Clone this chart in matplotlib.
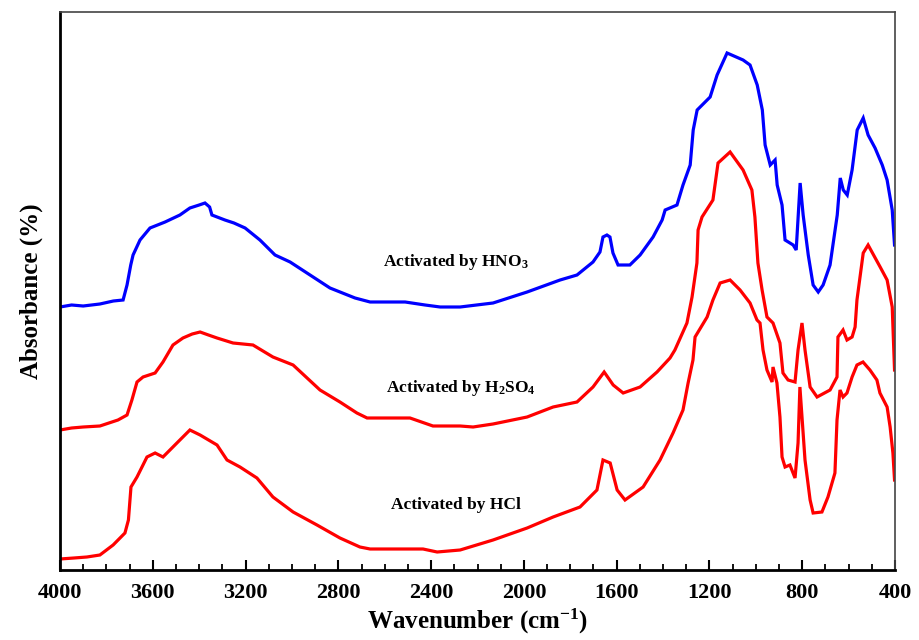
import matplotlib
matplotlib.use("Agg")
import matplotlib.pyplot as plt
from matplotlib.ticker import MultipleLocator

plt.rcParams['font.family'] = ['Liberation Serif', 'DejaVu Serif']
plt.rcParams['font.weight'] = 'bold'
plt.rcParams['mathtext.fontset'] = 'custom'
plt.rcParams['mathtext.rm'] = 'Liberation Serif:bold'
plt.rcParams['mathtext.bf'] = 'Liberation Serif:bold'
plt.rcParams['mathtext.default'] = 'rm'

# ---- data (wavenumber, arbitrary absorbance) ----
hno3_wn = [4000, 3950, 3900, 3828, 3770, 3728, 3711, 3695, 3685, 3655, 3612, 3547, 3483, 3440, 3400,
           3375, 3355, 3345, 3289, 3250, 3202, 3138, 3073, 3008, 2922, 2836, 2728, 2663, 2512, 2426,
           2361, 2275, 2133, 1986, 1844, 1771, 1702, 1672, 1659, 1642, 1629, 1616, 1594, 1543, 1499,
           1443, 1404, 1391, 1340, 1314, 1283, 1270, 1253, 1197, 1167, 1124, 1055, 1025, 994, 972,
           960, 938, 917, 908, 887, 874, 839, 826, 809, 796, 774, 753, 731, 710, 680, 649, 636, 623,
           606, 585, 563, 537, 516, 486, 455, 434, 412, 402]
hno3_abs = [2.63, 2.65, 2.64, 2.66, 2.69, 2.70, 2.85, 3.05, 3.15, 3.30, 3.42, 3.48, 3.55, 3.62, 3.65,
            3.67, 3.63, 3.55, 3.50, 3.47, 3.42, 3.30, 3.15, 3.08, 2.95, 2.82, 2.72, 2.68, 2.68, 2.65,
            2.63, 2.63, 2.67, 2.78, 2.90, 2.95, 3.08, 3.18, 3.33, 3.35, 3.33, 3.17, 3.05, 3.05, 3.15,
            3.33, 3.50, 3.60, 3.65, 3.85, 4.05, 4.40, 4.60, 4.73, 4.95, 5.17, 5.10, 5.05, 4.85, 4.60,
            4.25, 4.05, 4.10, 3.85, 3.65, 3.30, 3.25, 3.20, 3.87, 3.55, 3.15, 2.85, 2.78, 2.85, 3.05,
            3.55, 3.92, 3.80, 3.75, 4.00, 4.40, 4.52, 4.35, 4.22, 4.05, 3.90, 3.60, 3.25]

h2so4_wn = [4000, 3950, 3900, 3828, 3750, 3711, 3690, 3668, 3642, 3590, 3556, 3513, 3470, 3430, 3396,
            3360, 3323, 3254, 3168, 3082, 2995, 2879, 2793, 2720, 2676, 2491, 2392, 2275, 2219, 2133,
            1986, 1874, 1771, 1702, 1654, 1615, 1572, 1499, 1426, 1370, 1349, 1297, 1275, 1254, 1249,
            1232, 1185, 1163, 1111, 1055, 1017, 1004, 991, 973, 952, 926, 896, 883, 861, 831, 818,
            801, 788, 766, 736, 680, 650, 646, 624, 607, 585, 572, 564, 537, 516, 464, 434, 412, 402]
h2so4_abs = [1.40, 1.42, 1.43, 1.44, 1.50, 1.55, 1.70, 1.88, 1.93, 1.97, 2.08, 2.25, 2.32, 2.36, 2.38,
             2.35, 2.32, 2.27, 2.25, 2.13, 2.05, 1.80, 1.68, 1.57, 1.52, 1.52, 1.44, 1.44, 1.43, 1.46,
             1.53, 1.63, 1.68, 1.83, 1.98, 1.85, 1.77, 1.83, 1.98, 2.12, 2.20, 2.47, 2.73, 3.07, 3.40,
             3.53, 3.70, 4.07, 4.18, 4.00, 3.80, 3.53, 3.07, 2.80, 2.53, 2.47, 2.27, 1.97, 1.90, 1.88, 2.20,
             2.47, 2.20, 1.83, 1.73, 1.80, 1.93, 2.33, 2.40, 2.30, 2.33, 2.43, 2.70, 3.17, 3.25, 3.03,
             2.90, 2.63, 2.00]

hcl_wn = [4000, 3940, 3884, 3828, 3771, 3720, 3705, 3694, 3668, 3625, 3590, 3556, 3496, 3440, 3396,
          3323, 3280, 3224, 3151, 3082, 2995, 2892, 2793, 2707, 2663, 2435, 2374, 2275, 2133, 1986,
          1874, 1758, 1685, 1659, 1628, 1598, 1564, 1486, 1413, 1357, 1314, 1292, 1271, 1262, 1210,
          1185, 1154, 1111, 1068, 1025, 995, 982, 969, 952, 930, 926, 909, 896, 887, 874, 853, 831,
          818, 810, 788, 766, 753, 715, 689, 659, 650, 637, 624, 607, 585, 564, 538, 508, 478, 465,
          434, 421, 409, 402]
hcl_abs = [0.11, 0.12, 0.13, 0.15, 0.25, 0.37, 0.50, 0.83, 0.93, 1.13, 1.17, 1.13, 1.27, 1.40, 1.35,
           1.25, 1.10, 1.03, 0.92, 0.73, 0.58, 0.45, 0.32, 0.23, 0.21, 0.21, 0.18, 0.20, 0.30, 0.42,
           0.53, 0.63, 0.80, 1.10, 1.07, 0.80, 0.70, 0.83, 1.10, 1.37, 1.60, 1.87, 2.10, 2.33, 2.53,
           2.70, 2.87, 2.90, 2.80, 2.67, 2.50, 2.47, 2.20, 2.00, 1.88, 2.03, 1.87, 1.53, 1.13, 1.03,
           1.05, 0.92, 1.27, 1.83, 1.10, 0.70, 0.57, 0.58, 0.73, 0.97, 1.50, 1.80, 1.73, 1.77, 1.93,
           2.05, 2.08, 2.00, 1.90, 1.77, 1.63, 1.43, 1.17, 0.90]

labels = ["Activated by HNO$_3$", "Activated by H$_2$SO$_4$", "Activated by HCl"]
label_wn = [2292, 2271, 2292]
label_y = [3.08, 1.82, 0.65]

xticks = [4000, 3600, 3200, 2800, 2400, 2000, 1600, 1200, 800, 400]

fig = plt.figure(figsize=(9.19, 6.40), dpi=100)
ax = fig.add_axes([60 / 919, 1 - 570 / 640, 835 / 919, 558 / 640])

ax.plot(hno3_wn, hno3_abs, color='#0000FF', lw=2.3, solid_joinstyle='miter')
ax.plot(h2so4_wn, h2so4_abs, color='#FF0000', lw=2.3, solid_joinstyle='miter')
ax.plot(hcl_wn, hcl_abs, color='#FF0000', lw=2.3, solid_joinstyle='miter')

for t, xw, yv in zip(labels, label_wn, label_y):
    ax.text(xw, yv, t, ha='center', va='center', fontsize=12.5, fontweight='bold')

ax.set_xlim(4000, 400)
ax.set_ylim(0, 5.58)
ax.set_xticks(xticks)
ax.set_xticklabels([str(v) for v in xticks])
ax.xaxis.set_minor_locator(MultipleLocator(100))
ax.tick_params(axis='x', which='major', direction='in', length=7, width=1.5,
               labelsize=16, pad=9, top=False)
ax.tick_params(axis='x', which='minor', direction='in', length=4, width=1.3, top=False)
ax.set_yticks([])

for s in ['bottom', 'left']:
    ax.spines[s].set_linewidth(2.0)
    ax.spines[s].set_color('black')
for s in ['top', 'right']:
    ax.spines[s].set_linewidth(1.2)
    ax.spines[s].set_color('#444444')

ax.set_xlabel("Wavenumber (cm$^{-1}$)", fontsize=18, fontweight='bold', labelpad=3)
ax.set_ylabel("Absorbance (%)", fontsize=18, fontweight='bold', labelpad=12)

fig.savefig("out.png", dpi=100)
